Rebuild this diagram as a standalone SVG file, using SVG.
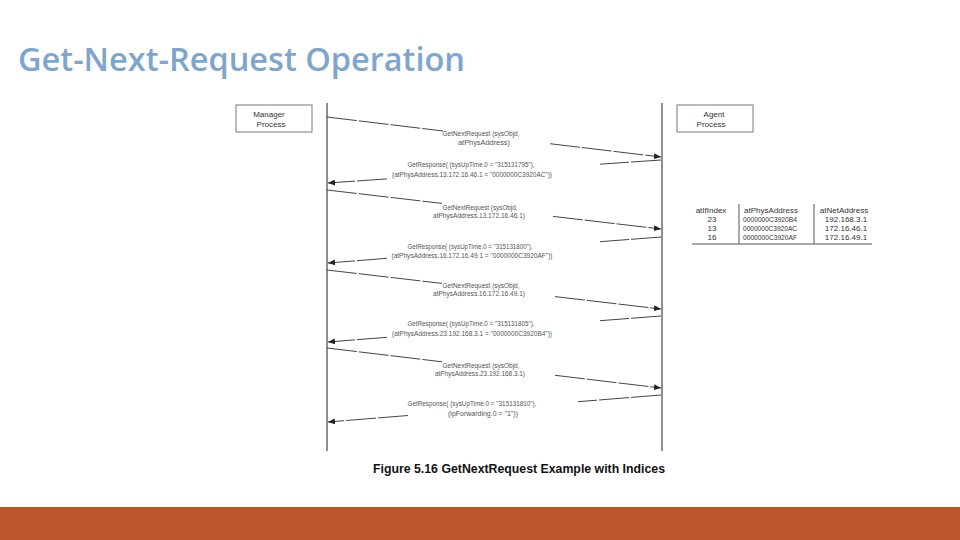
<svg xmlns="http://www.w3.org/2000/svg" width="960" height="540" viewBox="0 0 960 540">
<style>
.title{font-family:"Open Sans","Liberation Sans",sans-serif;font-size:32px;font-weight:600;fill:#7ea6cc;}
.box{fill:#fff;stroke:#777;stroke-width:1;}
.bt{font-family:"Liberation Sans",Arial,sans-serif;font-size:8px;fill:#333;text-anchor:middle;}
.life{stroke:#444;stroke-width:1.2;fill:none;}
.msg{stroke:#444;stroke-width:1;fill:none;stroke-dasharray:30 2;}
.ml{font-family:"Liberation Sans",Arial,sans-serif;font-size:8px;fill:#555;text-anchor:middle;}
.tt{font-family:"Liberation Sans",Arial,sans-serif;font-size:8px;fill:#333;text-anchor:middle;}
.tl{stroke:#555;stroke-width:1;}
.cap{font-family:"Liberation Sans",Arial,sans-serif;font-size:12.5px;font-weight:bold;fill:#111;}
</style>
<defs>
<marker id="ah" markerWidth="7" markerHeight="6" refX="7" refY="3" orient="auto" markerUnits="userSpaceOnUse">
<path d="M0,0 L7,3 L0,6 Z" fill="#222"/>
</marker>
</defs>
<rect width="960" height="540" fill="#fff"/>
<text class="title" x="18" y="71" textLength="447" lengthAdjust="spacingAndGlyphs">Get-Next-Request Operation</text>

<g id="manager">
<rect class="box" x="236" y="105" width="76" height="27"/>
<text class="bt" x="269" y="117">Manager</text>
<text class="bt" x="271" y="127">Process</text>
</g>
<g id="agent">
<rect class="box" x="677" y="105" width="76" height="27"/>
<text class="bt" x="714" y="117">Agent</text>
<text class="bt" x="711" y="127">Process</text>
</g>

<g id="lifelines">
<line class="life" x1="327" y1="103" x2="327" y2="451"/>
<line class="life" x1="662" y1="103" x2="662" y2="451"/>
</g>

<g id="connectors">
<line class="msg" x1="327" y1="117" x2="443" y2="131"/>
<line class="msg" x1="550" y1="143.7" x2="661" y2="157" marker-end="url(#ah)"/>
<line class="msg" x1="661" y1="160" x2="600" y2="164.2"/>
<line class="msg" x1="387" y1="178.9" x2="328" y2="183" marker-end="url(#ah)"/>

<line class="msg" x1="327" y1="190" x2="442" y2="203.4"/>
<line class="msg" x1="553" y1="216.4" x2="661" y2="229" marker-end="url(#ah)"/>
<line class="msg" x1="661" y1="237" x2="600" y2="241.7"/>
<line class="msg" x1="387" y1="258.3" x2="328" y2="263" marker-end="url(#ah)"/>

<line class="msg" x1="327" y1="270" x2="442" y2="283.4"/>
<line class="msg" x1="555" y1="296.6" x2="661" y2="309" marker-end="url(#ah)"/>
<line class="msg" x1="661" y1="316" x2="600" y2="320.7"/>
<line class="msg" x1="387" y1="337.3" x2="328" y2="342" marker-end="url(#ah)"/>

<line class="msg" x1="327" y1="348" x2="442" y2="361.8"/>
<line class="msg" x1="555" y1="375.3" x2="661" y2="388" marker-end="url(#ah)"/>
<line class="msg" x1="661" y1="395" x2="578" y2="401.7"/>
<line class="msg" x1="408" y1="415.5" x2="328" y2="422" marker-end="url(#ah)"/>
</g>

<g id="labels">
<text class="ml" x="481" y="136" textLength="77" lengthAdjust="spacingAndGlyphs">GetNextRequest (sysObjd,</text>
<text class="ml" x="484" y="145" textLength="52" lengthAdjust="spacingAndGlyphs">atPhysAddress)</text>
<text class="ml" x="471" y="167" textLength="127" lengthAdjust="spacingAndGlyphs">GetResponse( (sysUpTime.0 = "315131795"),</text>
<text class="ml" x="472" y="177" textLength="160" lengthAdjust="spacingAndGlyphs">(atPhysAddress.13.172.16.46.1 = "0000000C3920AC"))</text>

<text class="ml" x="480" y="210" textLength="75" lengthAdjust="spacingAndGlyphs">GetNextRequest (sysObjd,</text>
<text class="ml" x="479" y="218" textLength="92" lengthAdjust="spacingAndGlyphs">atPhysAddress.13.172.16.46.1)</text>
<text class="ml" x="470" y="249" textLength="125" lengthAdjust="spacingAndGlyphs">GetResponse( (sysUpTime.0 = "315131800"),</text>
<text class="ml" x="472" y="258" textLength="161" lengthAdjust="spacingAndGlyphs">(atPhysAddress.16.172.16.49.1 = "0000000C3920AF"))</text>

<text class="ml" x="481" y="288" textLength="77" lengthAdjust="spacingAndGlyphs">GetNextRequest (sysObjd,</text>
<text class="ml" x="479" y="296" textLength="92" lengthAdjust="spacingAndGlyphs">atPhysAddress.16.172.16.49.1)</text>
<text class="ml" x="471" y="326" textLength="127" lengthAdjust="spacingAndGlyphs">GetResponse( (sysUpTime.0 = "315131805"),</text>
<text class="ml" x="472" y="336" textLength="160" lengthAdjust="spacingAndGlyphs">(atPhysAddress.23.192.168.3.1 = "0000000C3920B4"))</text>

<text class="ml" x="481" y="368" textLength="77" lengthAdjust="spacingAndGlyphs">GetNextRequest (sysObjd,</text>
<text class="ml" x="480" y="376" textLength="90" lengthAdjust="spacingAndGlyphs">atPhysAddress.23.192.168.3.1)</text>
<text class="ml" x="472" y="406" textLength="129" lengthAdjust="spacingAndGlyphs">GetResponse( (sysUpTime.0 = "315131810"),</text>
<text class="ml" x="483" y="416" textLength="70" lengthAdjust="spacingAndGlyphs">(ipForwarding.0 = "1"))</text>
</g>

<g id="table">
<line class="tl" x1="739" y1="204" x2="739" y2="244"/>
<line class="tl" x1="814" y1="204" x2="814" y2="244"/>
<line class="tl" x1="692" y1="244" x2="872" y2="244"/>
<text class="tt" x="711" y="213">atIfIndex</text>
<text class="tt" x="771" y="213">atPhysAddress</text>
<text class="tt" x="844" y="213">atNetAddress</text>
<text class="tt" x="712" y="222">23</text>
<text class="tt" x="770" y="222" textLength="54" lengthAdjust="spacingAndGlyphs">0000000C3920B4</text>
<text class="tt" x="846" y="222">192.168.3.1</text>
<text class="tt" x="712" y="231">13</text>
<text class="tt" x="770" y="231" textLength="54" lengthAdjust="spacingAndGlyphs">0000000C3920AC</text>
<text class="tt" x="846" y="231">172.16.46.1</text>
<text class="tt" x="712" y="240">16</text>
<text class="tt" x="770" y="240" textLength="54" lengthAdjust="spacingAndGlyphs">0000000C3920AF</text>
<text class="tt" x="846" y="240">172.16.49.1</text>
</g>

<text class="cap" x="373" y="473" textLength="292" lengthAdjust="spacingAndGlyphs">Figure 5.16  GetNextRequest Example with Indices</text>

<rect x="0" y="507" width="960" height="33" fill="#bd582c"/>
</svg>
